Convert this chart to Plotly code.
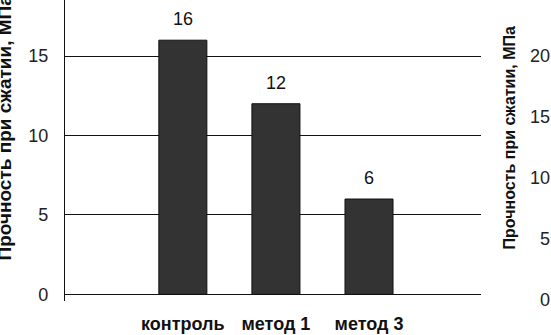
import plotly.graph_objects as go

categories = ["контроль", "метод 1", "метод 3"]
values = [16, 12, 6]
left_ticks = [0, 5, 10, 15]
right_ticks = [0, 5, 10, 15, 20]
axis_title = "Прочность при сжатии, МПа"

FONT = "Liberation Sans, Arial, sans-serif"
PLOT_W = 551 - 65

fig = go.Figure()
fig.add_trace(go.Bar(
    x=categories, y=values, width=0.516,
    marker=dict(color="#333333", line=dict(color="#111111", width=1)),
    showlegend=False, hoverinfo="skip",
))
# trace bound to the secondary axis so it gets drawn
fig.add_trace(go.Scatter(x=categories, y=[None] * len(categories), yaxis="y2",
                         showlegend=False, hoverinfo="skip"))

for c, v in zip(categories, values):
    fig.add_annotation(x=c, y=v, text=str(v), showarrow=False, yshift=21,
                       yanchor="middle", font=dict(family=FONT, size=18, color="#111"))

fig.add_annotation(xref="paper", yref="paper", x=(4.5 - 65) / PLOT_W, y=0.575,
                   text="<b>" + axis_title + "</b>",
                   textangle=-90, showarrow=False, xanchor="center", yanchor="middle",
                   font=dict(family=FONT, size=19, color="#111"))
fig.add_annotation(xref="paper", yref="paper", x=(509 - 65) / PLOT_W, y=0.54,
                   text="<b>" + axis_title + "</b>",
                   textangle=-90, showarrow=False, xanchor="center", yanchor="middle",
                   font=dict(family=FONT, size=16, color="#111"))

fig.update_layout(
    width=551, height=335,
    margin=dict(l=65, r=0, t=0, b=34, autoexpand=False),
    plot_bgcolor="white", paper_bgcolor="white",
    xaxis=dict(type="category", domain=[0, 415.7 / PLOT_W], range=[-1.266, 3.20],
               showline=False, showgrid=False, ticks="", zeroline=False, automargin=False,
               ticklabelstandoff=10,
               tickfont=dict(family=FONT, size=18, color="#111", weight="bold")),
    yaxis=dict(range=[-0.42, 18.53], tickvals=left_ticks, showgrid=True, automargin=False,
               gridcolor="#111", gridwidth=1.4, zeroline=True, zerolinecolor="#111",
               zerolinewidth=1.4, showline=True, linecolor="#111", linewidth=1.4,
               ticks="", ticklabelstandoff=12,
               tickfont=dict(family=FONT, size=18, color="#222")),
    yaxis2=dict(range=[-0.08, 24.59], tickvals=right_ticks, overlaying="y", side="right",
                anchor="free", position=1, showgrid=False, zeroline=False, showline=False,
                automargin=False,
                ticks="", ticklabelposition="inside", ticklabelstandoff=-2,
                ticklabeloverflow="allow",
                tickfont=dict(family=FONT, size=18, color="#222")),
)

fig.write_html("out.html", config={"displayModeBar": False},
               post_script="document.body.style.margin='0px';")
